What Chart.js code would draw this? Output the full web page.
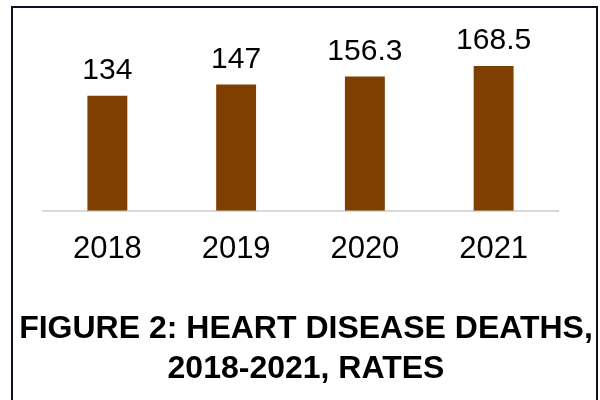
<!DOCTYPE html>
<html>
<head>
<meta charset="utf-8">
<script src="https://cdn.jsdelivr.net/npm/chart.js@4"></script>
<style>
  html, body { margin: 0; padding: 0; background: #fff; }
  body { width: 600px; height: 400px; overflow: hidden; position: relative; }
  .box {
    position: absolute; left: 11px; top: 6px;
    width: 583px; height: 420px;
    border: 2px solid #0b1220;
  }
  canvas { display: block; }
</style>
</head>
<body>
<div class="box">
  <canvas id="myChart" width="583" height="392"></canvas>
</div>
<script>
const years = ["2018", "2019", "2020", "2021"];
const rates = [134, 147, 156.3, 168.5];
const titleLines = ["FIGURE 2: HEART DISEASE DEATHS,", "2018-2021, RATES"];

const fontFamily = "'Liberation Sans', Arial, sans-serif";

// value labels above each bar
const barLabels = {
  id: "barLabels",
  afterDatasetsDraw(chart) {
    const { ctx } = chart;
    const meta = chart.getDatasetMeta(0);
    ctx.save();
    ctx.font = `30px ${fontFamily}`;
    ctx.fillStyle = "#000";
    ctx.textAlign = "center";
    ctx.textBaseline = "alphabetic";
    meta.data.forEach((bar, i) => {
      ctx.fillText(String(rates[i]), bar.x, bar.y - 17);
    });
    ctx.restore();
  },
};

// figure caption under the chart (built-in title squeezes it to the plot width)
const caption = {
  id: "caption",
  afterDraw(chart) {
    const { ctx } = chart;
    ctx.save();
    ctx.font = `bold 32px ${fontFamily}`;
    ctx.fillStyle = "#000";
    ctx.textAlign = "center";
    ctx.textBaseline = "alphabetic";
    titleLines.forEach((line, i) => {
      ctx.fillText(line, 293, 330 + i * 40);
    });
    ctx.restore();
  },
};

const data = {
  labels: years,
  datasets: [
    {
      data: rates,
      backgroundColor: "#7f3f00",
      barPercentage: 0.31,
      categoryPercentage: 1,
    },
  ],
};

const config = {
  type: "bar",
  data,
  options: {
    responsive: false,
    animation: false,
    layout: { padding: { top: 31, left: 30, right: 38, bottom: 112 } },
    plugins: {
      legend: { display: false },
      tooltip: { enabled: false },
      title: { display: false },
    },
    scales: {
      x: {
        grid: { display: false, drawTicks: false },
        border: { display: true, color: "#d9d9d9", width: 2 },
        ticks: {
          color: "#000",
          padding: 20,
          font: { family: fontFamily, size: 31 },
        },
      },
      y: {
        display: false,
        min: 0,
        max: 200,
      },
    },
  },
  plugins: [barLabels, caption],
};

new Chart(document.getElementById("myChart"), config);
</script>
</body>
</html>
